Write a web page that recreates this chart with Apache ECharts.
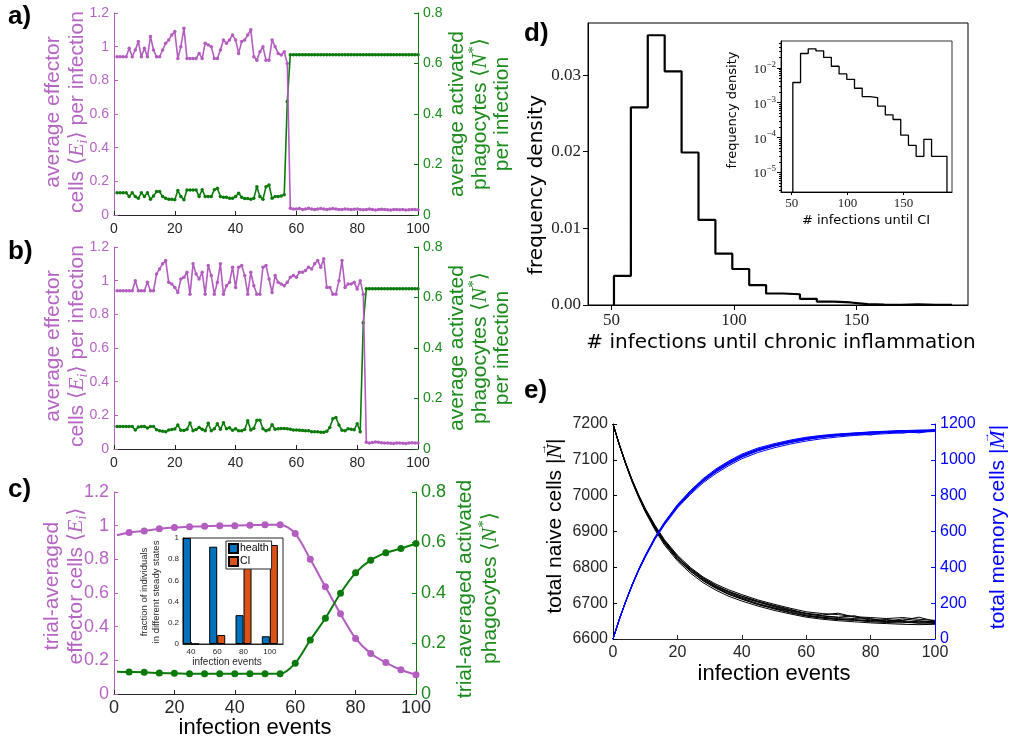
<!DOCTYPE html>
<html>
<head>
<meta charset="utf-8">
<script src="https://cdn.jsdelivr.net/npm/echarts@6/dist/echarts.min.js"></script>
<style>
  html, body { margin: 0; padding: 0; background: #fff; }
  #main { width: 1009px; height: 744px; }
</style>
</head>
<body>
<div id="main"></div>
<script>
// ---- panel a: single trajectory, x = 1..100
const effA = [
  0.94, 0.94, 0.94, 0.94, 0.99, 0.94, 0.98, 1.03, 0.94, 0.99,
  0.94, 1.06, 0.98, 0.94, 0.94, 0.98, 1.02, 1.04, 1.07, 1.09,
  0.93, 1.00, 1.11, 0.93, 0.93, 0.93, 0.93, 0.96, 0.93, 1.02,
  1.01, 1.00, 0.93, 0.93, 0.98, 1.04, 1.02, 1.04, 1.07, 1.04,
  0.96, 1.03, 1.04, 1.07, 1.10, 0.94, 0.92, 0.97, 1.00, 0.92,
  0.92, 1.04, 1.00, 0.96, 0.95, 0.97, 0.90,
  0.04, 0.035, 0.035, 0.038, 0.033, 0.035, 0.04, 0.035, 0.032, 0.035,
  0.038, 0.035, 0.033, 0.036, 0.038, 0.035, 0.033, 0.033, 0.035, 0.034,
  0.032, 0.034, 0.036, 0.033, 0.031, 0.033, 0.035, 0.032, 0.03, 0.032,
  0.034, 0.033, 0.031, 0.03, 0.032, 0.033, 0.031, 0.032, 0.03, 0.031,
  0.033, 0.032, 0.031
]
const phagA = [
  0.088, 0.088, 0.088, 0.088, 0.073, 0.088, 0.073, 0.066, 0.088, 0.073,
  0.088, 0.062, 0.075, 0.093, 0.093, 0.073, 0.066, 0.062, 0.062, 0.06,
  0.097, 0.073, 0.06, 0.099, 0.099, 0.099, 0.099, 0.073, 0.1, 0.073,
  0.073, 0.073, 0.1, 0.106, 0.073, 0.07, 0.07, 0.066, 0.066, 0.073,
  0.086, 0.07, 0.065, 0.065, 0.062, 0.066, 0.112, 0.073, 0.062, 0.112,
  0.119, 0.066, 0.073, 0.073, 0.075, 0.08, 0.45,
  0.635, 0.635, 0.635, 0.635, 0.635, 0.635, 0.635, 0.635, 0.635, 0.635,
  0.635, 0.635, 0.635, 0.635, 0.635, 0.635, 0.635, 0.635, 0.635, 0.635,
  0.635, 0.635, 0.635, 0.635, 0.635, 0.635, 0.635, 0.635, 0.635, 0.635,
  0.635, 0.635, 0.635, 0.635, 0.635, 0.635, 0.635, 0.635, 0.635, 0.635,
  0.635, 0.635, 0.635
]

// ---- panel b: another trajectory, x = 1..100
const effB = [
  0.94, 0.94, 0.94, 0.94, 0.94, 0.94, 1.00, 0.94, 0.94, 0.94,
  0.99, 0.94, 0.94, 1.04, 1.07, 1.10, 1.12, 0.99, 0.98, 0.96,
  0.93, 1.01, 1.02, 1.05, 0.92, 1.10, 1.04, 1.01, 1.05, 0.92,
  1.09, 1.03, 0.92, 0.99, 1.10, 0.92, 0.97, 0.99, 1.08, 0.96,
  1.08, 1.09, 1.03, 0.92, 1.05, 0.97, 0.92, 0.92, 1.08, 1.09,
  1.01, 0.93, 1.03, 0.99, 0.98, 0.97, 0.99, 1.02, 1.03, 1.02,
  1.05, 1.05, 1.06, 1.08, 1.07, 1.10, 1.12, 1.08, 1.13, 0.96,
  0.96, 0.92, 0.92, 1.00, 1.12, 0.96, 0.98, 0.98, 0.99, 0.95,
  1.00, 0.92,
  0.04, 0.035, 0.038, 0.042, 0.04, 0.037, 0.035, 0.036, 0.034, 0.033,
  0.035, 0.036, 0.034, 0.033, 0.035, 0.037, 0.036, 0.035
]
const phagB = [
  0.089, 0.089, 0.089, 0.089, 0.089, 0.089, 0.075, 0.087, 0.089, 0.089,
  0.083, 0.089, 0.089, 0.076, 0.072, 0.070, 0.068, 0.075, 0.077, 0.079,
  0.095, 0.074, 0.073, 0.078, 0.103, 0.072, 0.077, 0.085, 0.078, 0.072,
  0.102, 0.072, 0.080, 0.100, 0.078, 0.104, 0.080, 0.084, 0.074, 0.080,
  0.072, 0.072, 0.077, 0.112, 0.075, 0.082, 0.114, 0.114, 0.080, 0.072,
  0.076, 0.096, 0.078, 0.080, 0.081, 0.081, 0.080, 0.078, 0.075, 0.075,
  0.074, 0.073, 0.072, 0.072, 0.068, 0.068, 0.068, 0.066, 0.066, 0.070,
  0.085, 0.120, 0.125, 0.095, 0.074, 0.072, 0.080, 0.078, 0.076, 0.100,
  0.068, 0.50,
  0.635, 0.635, 0.635, 0.635, 0.635, 0.635, 0.635, 0.635, 0.635, 0.635,
  0.635, 0.635, 0.635, 0.635, 0.635, 0.635, 0.635, 0.635
]

// ---- panel c: trial averages
const cX = [1, 5, 10, 15, 20, 25, 30, 35, 40, 45, 50, 55, 60, 65, 70, 75, 80, 85, 90, 95, 100]
const effC = [0.943, 0.959, 0.969, 0.981, 0.989, 0.993, 0.997, 0.999, 1.0, 1.003, 1.006,
  1.006, 0.953, 0.80, 0.637, 0.476, 0.33, 0.241, 0.187, 0.144, 0.114]
const phagC = [0.088, 0.087, 0.086, 0.083, 0.082, 0.08, 0.08, 0.08, 0.08, 0.08, 0.08,
  0.08, 0.122, 0.214, 0.30, 0.399, 0.48, 0.53, 0.559, 0.576, 0.596]
// inset of c
const stateEvents = [40, 60, 80, 100]
const healthFrac = [1.0, 0.918, 0.272, 0.073]
const ciFrac = [0.0, 0.085, 0.731, 0.934]

// ---- panel d: histogram (step outline)
const histEdges = [51, 57.9, 64.8, 71.7, 78.6, 85.5, 92.4, 99.3, 106.2, 113.1, 120,
  126.9, 133.8, 140.7, 147.6, 154.5, 161.4, 168.3, 175.2, 182.1, 189]
const histDensity = [0.0038, 0.0258, 0.0352, 0.0305, 0.0199, 0.0111, 0.0067, 0.0047, 0.0026, 0.0015,
  0.0014, 0.0008, 0.00045, 0.00033, 0.000117, 0.00006, 0.000029, 0.000089, 0.000029, 0.000029]

// ---- panel e: naive / memory trajectories
const eX = [0, 2, 4, 6, 8, 10, 13, 16, 20, 24, 28, 32, 36, 40, 45, 50, 55, 60, 65, 70, 75, 80, 85, 90, 95, 100]
const naiveRuns = [
  [7200, 7142, 7090, 7043, 7002, 6965, 6918, 6877, 6834, 6800, 6773, 6753, 6737, 6724, 6709, 6697, 6686, 6676, 6671, 6668, 6662, 6660, 6657, 6660, 6655, 6652],
  [7200, 7140, 7086, 7037, 6994, 6955, 6905, 6862, 6818, 6784, 6757, 6736, 6719, 6706, 6692, 6680, 6670, 6661, 6655, 6651, 6648, 6645, 6643, 6641, 6640, 6641],
  [7200, 7141, 7088, 7041, 6999, 6961, 6914, 6873, 6830, 6796, 6769, 6749, 6731, 6719, 6704, 6692, 6681, 6672, 6667, 6672, 6661, 6657, 6650, 6652, 6661, 6649],
  [7200, 7141, 7087, 7039, 6997, 6958, 6910, 6868, 6824, 6790, 6762, 6741, 6724, 6711, 6696, 6684, 6673, 6664, 6658, 6654, 6652, 6650, 6653, 6647, 6644, 6646],
  [7200, 7142, 7089, 7042, 7000, 6963, 6916, 6874, 6831, 6795, 6767, 6746, 6730, 6716, 6703, 6690, 6679, 6671, 6664, 6660, 6657, 6655, 6649, 6656, 6651, 6648],
  [7200, 7140, 7087, 7038, 6996, 6957, 6908, 6866, 6822, 6789, 6763, 6743, 6725, 6712, 6697, 6686, 6675, 6665, 6660, 6655, 6653, 6648, 6646, 6645, 6650, 6643],
  [7200, 7141, 7089, 7041, 6999, 6962, 6913, 6871, 6829, 6797, 6771, 6749, 6733, 6720, 6706, 6694, 6683, 6670, 6665, 6661, 6665, 6652, 6654, 6651, 6647, 6650],
  [7200, 7141, 7088, 7040, 6998, 6960, 6911, 6869, 6826, 6792, 6765, 6744, 6727, 6714, 6699, 6687, 6678, 6667, 6661, 6657, 6654, 6651, 6648, 6649, 6645, 6644]
]
const memoryRuns = [
  [0, 113, 214, 307, 391, 466, 568, 653, 750, 828, 895, 950, 994, 1032, 1066, 1090, 1110, 1126, 1137, 1145, 1150, 1156, 1160, 1163, 1166, 1168],
  [0, 111, 210, 300, 382, 455, 555, 637, 731, 806, 872, 924, 968, 1006, 1041, 1067, 1088, 1105, 1118, 1128, 1136, 1142, 1146, 1152, 1155, 1158],
  [0, 112, 212, 304, 388, 462, 563, 648, 744, 821, 889, 942, 986, 1024, 1058, 1083, 1104, 1120, 1133, 1139, 1148, 1138, 1156, 1160, 1150, 1165],
  [0, 112, 211, 302, 385, 458, 559, 642, 736, 813, 879, 932, 976, 1014, 1050, 1076, 1096, 1113, 1126, 1136, 1143, 1150, 1153, 1157, 1163, 1160],
  [0, 113, 213, 305, 389, 464, 565, 650, 746, 824, 890, 945, 990, 1027, 1061, 1085, 1106, 1122, 1134, 1142, 1149, 1153, 1158, 1164, 1158, 1166],
  [0, 111, 211, 303, 386, 460, 560, 644, 738, 815, 881, 935, 978, 1017, 1052, 1077, 1098, 1114, 1127, 1135, 1140, 1147, 1153, 1149, 1160, 1162],
  [0, 112, 212, 303, 387, 461, 561, 645, 740, 817, 884, 938, 982, 1020, 1055, 1080, 1100, 1116, 1128, 1137, 1144, 1152, 1157, 1161, 1156, 1170],
  [0, 112, 213, 305, 388, 463, 563, 647, 743, 820, 886, 940, 984, 1022, 1057, 1082, 1102, 1119, 1131, 1141, 1147, 1155, 1151, 1158, 1164, 1161]
]

const SANS = '"Liberation Sans", "DejaVu Sans", sans-serif'
const DJV = '"DejaVu Sans", sans-serif'
const SERIF = '"Liberation Serif", "DejaVu Serif", serif'
const PURPLE = '#B25DBF'
const PURPLE_T = '#B566C3'
const GREEN = '#0B7A0B'
const GREEN_T = '#1C8A1C'
const DARK = '#262626'

// step outline for the histogram
function stepLine(floor) {
  const pts = [[histEdges[0], floor]]
  for (let i = 0; i < histDensity.length; i++) {
    pts.push([histEdges[i], histDensity[i]])
    pts.push([histEdges[i + 1], histDensity[i]])
  }
  pts.push([histEdges[histEdges.length - 1], floor])
  return pts
}

const LOG_MIN = 2.75e-6
const LOG_MAX = 0.0589
const logMinor = []
for (let d = -6; d <= -2; d++) {
  for (let k = 2; k <= 9; k++) {
    const v = k * Math.pow(10, d)
    if (v > LOG_MIN && v < LOG_MAX) logMinor.push(v)
  }
}

function xAx(grid, min, max, interval, fs, extra) {
  return Object.assign({
    type: 'value', gridIndex: grid, min: min, max: max, interval: interval,
    splitLine: { show: false },
    axisLine: { onZero: false, lineStyle: { color: DARK, width: 1 } },
    axisTick: { inside: true, length: 4, lineStyle: { color: DARK } },
    axisLabel: { color: DARK, fontSize: fs, fontFamily: SANS, margin: 7 }
  }, extra || {})
}
function yAx(grid, pos, min, max, interval, color, tcolor, fs, extra) {
  return Object.assign({
    type: 'value', gridIndex: grid, position: pos, min: min, max: max, interval: interval,
    splitLine: { show: false },
    axisLine: { show: true, onZero: false, lineStyle: { color: color, width: 1 } },
    axisTick: { show: true, inside: true, length: 4, lineStyle: { color: color } },
    axisLabel: { color: tcolor, fontSize: fs, fontFamily: SANS, margin: 5, formatter: v => String(+v.toFixed(4)) }
  }, extra || {})
}

function vtext(x, y, text, style) {
  return {
    type: 'text', x: x, y: y, rotation: Math.PI / 2,
    style: Object.assign({
      text: text, textAlign: 'center', textVerticalAlign: 'middle',
      align: 'center', verticalAlign: 'middle'
    }, style)
  }
}
function htext(x, y, text, style) {
  return {
    type: 'text', x: x, y: y,
    style: Object.assign({
      text: text, textAlign: 'center', textVerticalAlign: 'middle',
      align: 'center', verticalAlign: 'middle'
    }, style)
  }
}
function mathRich(col, fs) {
  return {
    t: { fontSize: fs, fontFamily: SANS, fill: col, color: col, lineHeight: fs + 6 },
    m: { fontSize: fs + 1, fontFamily: SERIF, fontStyle: 'italic', fill: col, color: col, lineHeight: fs + 6 },
    sub: { fontSize: fs - 7, fontFamily: SERIF, fontStyle: 'italic', fill: col, color: col, lineHeight: fs - 4, verticalAlign: 'bottom' },
    sup: { fontSize: fs - 6, fontFamily: SERIF, fill: col, color: col, lineHeight: fs - 4, verticalAlign: 'top' }
  }
}
function plain(col, fs, fam) {
  return { fontSize: fs, fontFamily: fam || SANS, fill: col }
}
function letter(x, y, t) {
  return htext(x, y, t, { fontSize: 26, fontWeight: 'bold', fontFamily: SANS, fill: '#000', textAlign: 'left', align: 'left' })
}

// vertical label "<pre>|V|" with a small vector arrow over V
const measureCtx = document.createElement('canvas').getContext('2d')
function textW(font, s) {
  measureCtx.font = font
  return measureCtx.measureText(s).width
}
function vectorLabel(cx, cy, pre, sym, col) {
  const fs = 21
  const w1 = textW(fs + 'px "Liberation Sans"', pre + '|')
  const wS = textW('italic ' + (fs + 1) + 'px "Liberation Serif"', sym)
  const w3 = textW(fs + 'px "Liberation Sans"', '|')
  const total = w1 + wS + w3
  const s = w1 + wS / 2 - total / 2 + 2
  return [
    vtext(cx, cy, '{t|' + pre + '|}{m|' + sym + '}{t||}', { rich: mathRich(col, fs) }),
    vtext(cx - 12, cy - s, '→', { fontSize: 11, fontFamily: SERIF, fill: col })
  ]
}

function trajSeries(xi, yi, vals, color, z) {
  return {
    type: 'line', xAxisIndex: xi, yAxisIndex: yi, z: z,
    data: vals.map((v, i) => [i + 1, v]),
    symbol: 'circle', symbolSize: 3.5,
    lineStyle: { color: color, width: 1.6 }, itemStyle: { color: color }
  }
}

const series = [
  trajSeries(0, 1, phagA, GREEN, 2), trajSeries(0, 0, effA, PURPLE, 3),
  trajSeries(1, 3, phagB, GREEN, 2), trajSeries(1, 2, effB, PURPLE, 3),
  {
    type: 'line', xAxisIndex: 2, yAxisIndex: 4, smooth: 0.3,
    data: cX.map((x, i) => i === 0 ? { value: [x, effC[i]], symbol: 'none' } : [x, effC[i]]),
    symbol: 'circle', symbolSize: 7,
    lineStyle: { color: PURPLE, width: 2 }, itemStyle: { color: PURPLE }
  },
  {
    type: 'line', xAxisIndex: 2, yAxisIndex: 5, smooth: 0.3,
    data: cX.map((x, i) => i === 0 ? { value: [x, phagC[i]], symbol: 'none' } : [x, phagC[i]]),
    symbol: 'circle', symbolSize: 7,
    lineStyle: { color: GREEN, width: 2 }, itemStyle: { color: GREEN }
  },
  {
    name: 'health', type: 'bar', xAxisIndex: 3, yAxisIndex: 6, barWidth: 8, barGap: '0%', z: 6,
    data: stateEvents.map((x, i) => [x, healthFrac[i]]),
    itemStyle: { color: '#0072BD', borderColor: '#000', borderWidth: 1 }
  },
  {
    name: 'CI', type: 'bar', xAxisIndex: 3, yAxisIndex: 6, barWidth: 8, barGap: '0%', z: 6,
    data: stateEvents.map((x, i) => [x, ciFrac[i]]),
    itemStyle: { color: '#D95319', borderColor: '#000', borderWidth: 1 }
  },
  {
    type: 'line', xAxisIndex: 4, yAxisIndex: 7, data: stepLine(0), symbol: 'none',
    lineStyle: { color: '#000', width: 2.2 }
  },
  {
    type: 'line', xAxisIndex: 5, yAxisIndex: 8, data: stepLine(LOG_MIN), symbol: 'none',
    lineStyle: { color: '#000', width: 1.3 }
  }
]
naiveRuns.forEach(run => series.push({
  type: 'line', xAxisIndex: 6, yAxisIndex: 10, symbol: 'none',
  data: eX.map((x, i) => [x, run[i]]), lineStyle: { color: '#000', width: 1 }
}))
memoryRuns.forEach(run => series.push({
  type: 'line', xAxisIndex: 6, yAxisIndex: 11, symbol: 'none',
  data: eX.map((x, i) => [x, run[i]]), lineStyle: { color: '#0000FF', width: 1 }
}))

const logRich = {
  b: { fontSize: 13, fontFamily: SERIF, color: '#222', lineHeight: 16, verticalAlign: 'bottom' },
  s: { fontSize: 9, fontFamily: SERIF, color: '#222', lineHeight: 9, verticalAlign: 'top' }
}

const option = {
  animation: false,
  backgroundColor: '#fff',
  grid: [
    { left: 114, top: 13, width: 304, height: 202 },
    { left: 114, top: 247, width: 304, height: 202 },
    { left: 114, top: 492, width: 302, height: 202 },
    { left: 183, top: 538, width: 100, height: 106, show: true, backgroundColor: '#fff', borderColor: DARK, borderWidth: 1 },
    { left: 588, top: 23, width: 380, height: 282, show: true, borderColor: '#000', borderWidth: 1 },
    { left: 781, top: 41, width: 171, height: 151, show: true, borderColor: '#333', borderWidth: 1 },
    { left: 613, top: 424, width: 322, height: 215 }
  ],
  legend: {
    data: ['health', 'CI'], orient: 'vertical', left: 226, top: 541,
    itemWidth: 9, itemHeight: 9, itemGap: 2, icon: 'rect',
    padding: [2, 3, 2, 2], borderColor: DARK, borderWidth: 1, backgroundColor: '#fff',
    selectedMode: false, z: 10,
    textStyle: { fontSize: 10.5, fontFamily: SANS, color: '#000', padding: [0, 0, 0, -3] }
  },
  xAxis: [
    xAx(0, 0, 100, 20, 14),
    xAx(1, 0, 100, 20, 14),
    xAx(2, 0, 100, 20, 18, { axisLabel: { color: DARK, fontSize: 18, fontFamily: SANS, margin: 5 } }),
    xAx(3, 34, 110, null, 8, {
      axisTick: { inside: true, length: 2, customValues: stateEvents, lineStyle: { color: DARK } },
      axisLabel: { color: DARK, fontSize: 8, fontFamily: SANS, margin: 4, customValues: stateEvents }
    }),
    xAx(4, 40.4, 195.5, null, 17, {
      axisLine: { onZero: false, lineStyle: { color: '#000', width: 1 } },
      axisTick: { inside: false, length: 5, customValues: [50, 100, 150], lineStyle: { color: '#000' } },
      axisLabel: { color: '#222', fontSize: 17, fontFamily: SERIF, margin: 7, customValues: [50, 100, 150] }
    }),
    xAx(5, 40.4, 193.5, null, 13, {
      axisLine: { onZero: false, lineStyle: { color: '#000', width: 1 } },
      axisTick: { inside: false, length: 3, customValues: [50, 100, 150], lineStyle: { color: '#000' } },
      axisLabel: { color: '#222', fontSize: 13, fontFamily: SERIF, margin: 5, customValues: [50, 100, 150] }
    }),
    xAx(6, 0, 100, 20, 16, { axisLabel: { color: DARK, fontSize: 16, fontFamily: SANS, margin: 6 } })
  ],
  yAxis: [
    yAx(0, 'left', 0, 1.2, 0.2, PURPLE, PURPLE_T, 14),
    yAx(0, 'right', 0, 0.8, 0.2, GREEN, GREEN_T, 14),
    yAx(1, 'left', 0, 1.2, 0.2, PURPLE, PURPLE_T, 14),
    yAx(1, 'right', 0, 0.8, 0.2, GREEN, GREEN_T, 14),
    yAx(2, 'left', 0, 1.2, 0.2, PURPLE, PURPLE_T, 18),
    yAx(2, 'right', 0, 0.8, 0.2, GREEN, GREEN_T, 18),
    yAx(3, 'left', 0, 1, 0.2, DARK, DARK, 8, {
      axisTick: { show: true, inside: true, length: 2, lineStyle: { color: DARK } },
      axisLabel: { color: DARK, fontSize: 8, fontFamily: SANS, margin: 4 }
    }),
    {
      type: 'value', gridIndex: 4, min: 0, max: 0.0368,
      splitLine: { show: false },
      axisLine: { show: true, lineStyle: { color: '#000' } },
      axisTick: { show: true, length: 5, customValues: [0, 0.01, 0.02, 0.03], lineStyle: { color: '#000' } },
      axisLabel: {
        color: '#222', fontSize: 17, fontFamily: SERIF, margin: 7,
        customValues: [0, 0.01, 0.02, 0.03], formatter: v => v.toFixed(2)
      }
    },
    {
      type: 'log', logBase: 10, gridIndex: 5, position: 'left', min: LOG_MIN, max: LOG_MAX,
      splitLine: { show: false },
      axisLine: { show: true, lineStyle: { color: '#000' } },
      axisTick: { show: true, length: 4, customValues: [1e-5, 1e-4, 1e-3, 1e-2], lineStyle: { color: '#000' } },
      axisLabel: {
        margin: 5, customValues: [1e-5, 1e-4, 1e-3, 1e-2],
        formatter: v => '{b|10}{s|−' + (-Math.round(Math.log10(v))) + '}',
        rich: logRich
      }
    },
    {
      type: 'log', logBase: 10, gridIndex: 5, position: 'left', offset: 0, min: LOG_MIN, max: LOG_MAX,
      splitLine: { show: false },
      axisLine: { show: false },
      axisTick: { show: true, length: 2, customValues: logMinor, lineStyle: { color: '#000' } },
      axisLabel: { show: false }
    },
    yAx(6, 'left', 6600, 7200, 100, '#000', DARK, 16),
    yAx(6, 'right', 0, 1200, 200, '#0000FF', '#0000FF', 16)
  ],
  series: series,
  graphic: [
    letter(8, 17, 'a)'),
    letter(8, 252, 'b)'),
    letter(8, 490, 'c)'),
    letter(524, 34, 'd)'),
    letter(524, 391, 'e)'),
    // a
    vtext(53, 112, 'average effector', plain(PURPLE_T, 21)),
    vtext(77, 112, '{t|cells ⟨}{m|E}{sub|i}{t|⟩ per infection}', { rich: mathRich(PURPLE_T, 21) }),
    vtext(457, 114, 'average activated', plain(GREEN_T, 21)),
    vtext(480, 114, '{t|phagocytes ⟨}{m|N}{sup|*}{t|⟩}', { rich: mathRich(GREEN_T, 21) }),
    vtext(502, 114, 'per infection', plain(GREEN_T, 21)),
    // b
    vtext(53, 346, 'average effector', plain(PURPLE_T, 21)),
    vtext(77, 346, '{t|cells ⟨}{m|E}{sub|i}{t|⟩ per infection}', { rich: mathRich(PURPLE_T, 21) }),
    vtext(457, 348, 'average activated', plain(GREEN_T, 21)),
    vtext(480, 348, '{t|phagocytes ⟨}{m|N}{sup|*}{t|⟩}', { rich: mathRich(GREEN_T, 21) }),
    vtext(502, 348, 'per infection', plain(GREEN_T, 21)),
    // c
    vtext(52, 586, 'trial-averaged', plain(PURPLE_T, 21)),
    vtext(76, 586, '{t|effector cells ⟨}{m|E}{sub|i}{t|⟩}', { rich: mathRich(PURPLE_T, 21) }),
    vtext(465, 589, 'trial-averaged activated', plain(GREEN_T, 21)),
    vtext(490, 588, '{t|phagocytes ⟨}{m|N}{sup|*}{t|⟩}', { rich: mathRich(GREEN_T, 21) }),
    htext(255, 728, 'infection events', plain('#000', 22)),
    vtext(144, 592, 'fraction of individuals', plain(DARK, 9.5)),
    vtext(156, 592, 'in different steady states', plain(DARK, 9.5)),
    htext(227, 662, 'infection events', plain(DARK, 10)),
    // d
    vtext(537, 185, 'frequency density', plain('#000', 20, DJV)),
    htext(781, 343, '# infections until chronic inflammation', plain('#000', 20, DJV)),
    vtext(733, 110, 'frequency density', plain('#000', 13, DJV)),
    htext(866, 221, '# infections until CI', plain('#000', 13, DJV)),
    // e
    ...vectorLabel(555, 526, 'total naive cells ', 'N', '#000'),
    ...vectorLabel(998, 527, 'total memory cells ', 'M', '#0000FF'),
    htext(774, 674, 'infection events', plain('#000', 22))
  ]
}

const chart = echarts.init(document.getElementById('main'))
chart.setOption(option)
</script>
</body>
</html>
